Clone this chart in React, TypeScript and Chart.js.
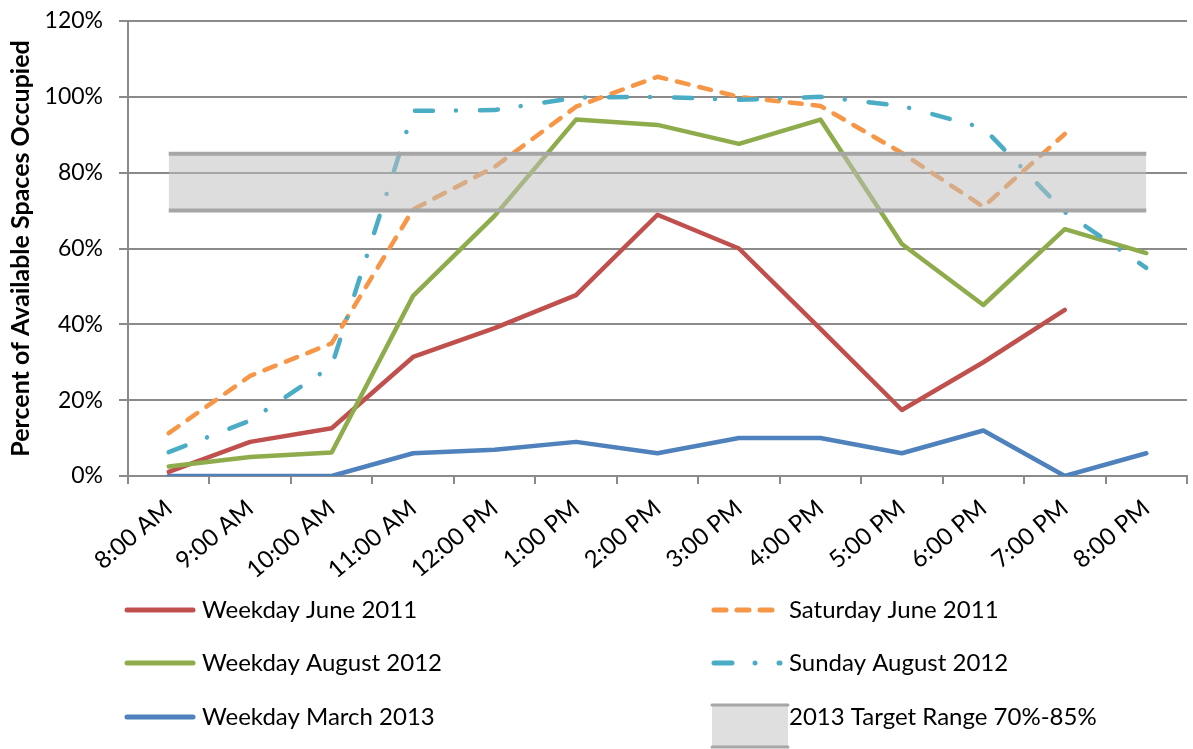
import React, { useEffect, useRef } from 'react';
import { Chart, registerables } from 'chart.js';

Chart.register(...registerables);

const timeLabels = ['8:00 AM', '9:00 AM', '10:00 AM', '11:00 AM', '12:00 PM', '1:00 PM', '2:00 PM', '3:00 PM', '4:00 PM', '5:00 PM', '6:00 PM', '7:00 PM', '8:00 PM'];
const weekdayJune2011 = [1.1, 9, 12.6, 31.4, 39, 47.7, 68.9, 60, 38.8, 17.4, 30, 43.8, null];
const saturdayJune2011 = [11.3, 26.4, 35, 70.3, 81.5, 97.4, 105.3, 100, 97.6, 85.2, 71, 90.2, null];
const weekdayAugust2012 = [2.5, 5, 6.2, 47.5, 68.6, 94, 92.6, 87.6, 94, 61.2, 45.1, 65.1, 58.8];
const sundayAugust2012 = [6.3, 14.6, 29, 96.3, 96.5, 99.8, 100, 99.2, 100, 97.6, 91.8, 69.6, 54.9];
const weekdayMarch2013 = [0, 0, 0, 6, 6.9, 9, 6, 10, 10, 6, 12, 0, 6];
const targetUpper = timeLabels.map(() => 85);
const targetLower = timeLabels.map(() => 70);

const FONT = 'Lato, "Open Sans", sans-serif';
const GRID = '#8a8a8a';

const legendItems = [
  { label: 'Weekday June 2011', color: '#c0504d', dash: [] as number[], col: 0, row: 0 },
  { label: 'Saturday June 2011', color: '#f79646', dash: [12, 11], col: 1, row: 0 },
  { label: 'Weekday August 2012', color: '#8fac4d', dash: [] as number[], col: 0, row: 1 },
  { label: 'Sunday August 2012', color: '#4bacc6', dash: [18, 23, 0.01, 24], col: 1, row: 1 },
  { label: 'Weekday March 2013', color: '#4f81bd', dash: [] as number[], col: 0, row: 2 },
  { label: '2013 Target Range 70%-85%', color: 'band', dash: [] as number[], col: 1, row: 2 },
];

const legendPlugin = {
  id: 'customLegend',
  afterDraw(chart: any) {
    const ctx = chart.ctx;
    const colX = [125, 712];
    const rowY = [610, 663, 717];
    ctx.save();
    ctx.font = `24px ${FONT}`;
    ctx.textBaseline = 'middle';
    ctx.textAlign = 'left';
    legendItems.forEach((it) => {
      const x = colX[it.col];
      const y = rowY[it.row];
      if (it.color === 'band') {
        ctx.fillStyle = '#dfdfdf';
        ctx.fillRect(x, y - 13, 76, 44);
        ctx.strokeStyle = '#a6a6a6';
        ctx.lineWidth = 3;
        ctx.beginPath();
        ctx.moveTo(x, y - 12);
        ctx.lineTo(x + 76, y - 12);
        ctx.moveTo(x, y + 30);
        ctx.lineTo(x + 76, y + 30);
        ctx.stroke();
      } else {
        ctx.strokeStyle = it.color;
        ctx.lineWidth = 5;
        ctx.lineCap = 'round';
        ctx.setLineDash(it.dash);
        ctx.beginPath();
        ctx.moveTo(x + 2, y);
        ctx.lineTo(x + 68, y);
        ctx.stroke();
        ctx.setLineDash([]);
      }
      ctx.fillStyle = '#000';
      ctx.fillText(it.label, x + 77, y);
    });
    ctx.restore();
  },
};

export default function App() {
  const ref = useRef<HTMLCanvasElement | null>(null);
  useEffect(() => {
    document.body.style.margin = '0';
    const line = (label: string, data: any[], color: string, dash: number[], order: number) => ({
      label,
      data,
      borderColor: color,
      backgroundColor: color,
      borderWidth: 4.5,
      borderDash: dash,
      borderCapStyle: 'round',
      borderJoinStyle: 'round',
      pointRadius: 0,
      fill: false,
      tension: 0,
      spanGaps: false,
      order,
    });
    const chart = new Chart(ref.current as HTMLCanvasElement, {
      type: 'line',
      data: {
        labels: timeLabels,
        datasets: [
          line('Weekday March 2013', weekdayMarch2013, '#4f81bd', [], 5),
          line('Weekday June 2011', weekdayJune2011, '#c0504d', [], 4),
          line('Weekday August 2012', weekdayAugust2012, '#8fac4d', [], 3),
          line('Saturday June 2011', saturdayJune2011, '#f79646', [12, 11], 2),
          line('Sunday August 2012', sundayAugust2012, '#4bacc6', [18, 23, 0.01, 24], 1),
          {
            label: '2013 Target Range 70%-85%',
            data: targetUpper,
            borderColor: '#a6a6a6',
            backgroundColor: 'rgba(190,190,190,0.52)',
            borderWidth: 4,
            borderCapStyle: 'butt',
            pointRadius: 0,
            fill: '+1',
            order: -1,
          },
          {
            label: 'Target lower',
            data: targetLower,
            borderColor: '#a6a6a6',
            borderWidth: 4,
            borderCapStyle: 'butt',
            pointRadius: 0,
            fill: false,
            order: -2,
          },
        ] as any,
      },
      options: {
        responsive: false,
        animation: false,
        layout: { padding: { top: 21, right: 6, left: 0, bottom: 0 } },
        plugins: { legend: { display: false }, tooltip: { enabled: false } },
        scales: {
          x: {
            type: 'category',
            offset: true,
            grid: { display: true, drawOnChartArea: false, drawTicks: true, tickLength: 8, offset: true, color: GRID, lineWidth: 2 },
            border: { display: true, color: GRID, width: 2 },
            ticks: { color: '#000', font: { family: FONT, size: 24 }, minRotation: 40, maxRotation: 40, padding: 10, autoSkip: false },
            afterFit: (s: any) => { s.height = 273; s.paddingLeft = 0; s.paddingRight = 0; },
          },
          y: {
            min: 0,
            max: 120,
            ticks: { stepSize: 20, color: '#000', font: { family: FONT, size: 23 }, padding: 16, callback: (v: any) => `${v}%` },
            grid: { color: GRID, lineWidth: 2, tickLength: 9 },
            border: { display: true, color: GRID, width: 2 },
            title: { display: true, text: 'Percent of Available Spaces Occupied', color: '#000', font: { family: FONT, size: 25, weight: 'bold' }, padding: { top: 6, bottom: 0 } },
            afterFit: (s: any) => { s.width = 128; s.paddingTop = 0; s.paddingBottom = 0; },
          },
        },
      },
      plugins: [legendPlugin],
    } as any);
    return () => chart.destroy();
  }, []);
  return (
    <div style={{ position: 'fixed', left: 0, top: 0, width: 1193, height: 749, background: '#fff' }}>
      <canvas ref={ref} width={1193} height={749} style={{ display: 'block' }} />
    </div>
  );
}
